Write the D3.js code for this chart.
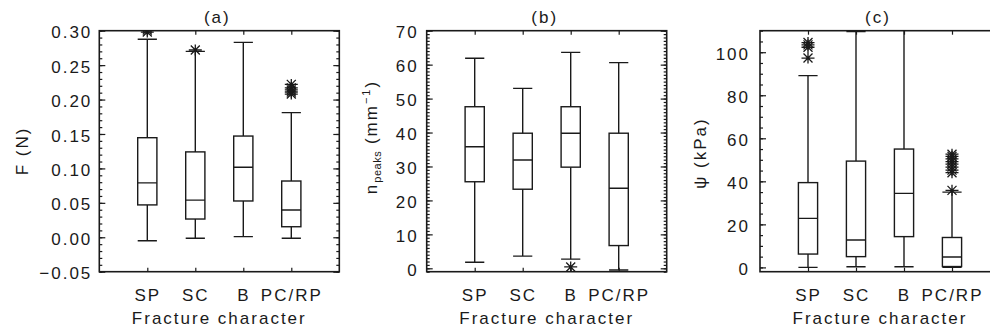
<!DOCTYPE html>
<html>
<head>
<meta charset="utf-8">
<script src="https://cdn.jsdelivr.net/npm/d3@7"></script>
<style>
    body { margin: 0; background: #fff; }
    svg { display: block; font-family: "Liberation Sans", Arial, sans-serif; }
    .tick text, .label { font-size: 17px; letter-spacing: 2px; fill: #1a1a1a; }
</style>
</head>
<body>
<svg width="990" height="331"></svg>
<script>
// **** Values ****
var categories = ["SP", "SC", "B", "PC/RP"];

// (a) F (N)
var forceLow = [-0.005, -0.0015, 0.001, -0.0015];
var forceQ1 = [0.047, 0.0265, 0.0527, 0.0153];
var forceMedian = [0.079, 0.054, 0.1016, 0.0396];
var forceQ3 = [0.1446, 0.124, 0.147, 0.0817];
var forceHigh = [0.2875, 0.27, 0.283, 0.181];
var forceOutliers = [[0.298, 0.301, 0.304], [0.272], [], [0.222, 0.217, 0.214, 0.211, 0.208]];

// (b) n_peaks (mm-1)
var peaksLow = [1.8, 3.6, 2.7, -0.5];
var peaksQ1 = [25.5, 23.3, 29.8, 6.7];
var peaksMedian = [35.8, 31.9, 39.8, 23.6];
var peaksQ3 = [47.6, 39.8, 47.6, 39.8];
var peaksHigh = [61.9, 53.0, 63.6, 60.6];
var peaksOutliers = [[], [], [0.4], []];

// (c) psi (kPa)
var psiLow = [0, 0.3, 0.3, 0];
var psiQ1 = [6.2, 5, 14.3, 0.4];
var psiMedian = [22.8, 12.7, 34.4, 4.8];
var psiQ3 = [39.4, 49.4, 55, 13.9];
var psiHigh = [89.1, 109.6, 118, 35];
var psiOutliers = [[104.5, 103.4, 102.3, 97.3], [], [], [52.6, 51.6, 50.4, 49.2, 48, 46.6, 45.2, 44, 35.8]];

// **** Layout ****
var plotTop = 30.7, plotBottom = 271.7, plotWidth = 240;
var ink = "#1a1a1a";

var panels = [
    { title: "(a)", left: 99.3, low: forceLow, q1: forceQ1, med: forceMedian, q3: forceQ3, high: forceHigh, out: forceOutliers,
      domain: [-0.05, 0.30], major: 0.05, minor: 0.01, format: ".2f", labelX: 28, labelY: 151, pad: 7, label: "F (N)" },
    { title: "(b)", left: 426.7, low: peaksLow, q1: peaksQ1, med: peaksMedian, q3: peaksQ3, high: peaksHigh, out: peaksOutliers,
      domain: [-1, 70], major: 10, minor: 1, format: "d", labelX: 377, labelY: 137, pad: 8, label: "peaks" },
    { title: "(c)", left: 760, low: psiLow, q1: psiQ1, med: psiMedian, q3: psiQ3, high: psiHigh, out: psiOutliers,
      domain: [-2, 110], major: 20, minor: 5, format: "d", labelX: 706, labelY: 153, pad: 10, label: "\u03c8 (kPa)" }
];

// IDL style asterisk (psym=2)
var asterisk = {
    draw: function (context, size) {
        var r = Math.sqrt(size);
        context.moveTo(-0.65 * r, 0); context.lineTo(0.65 * r, 0);
        context.moveTo(0, -0.55 * r); context.lineTo(0, 0.55 * r);
        context.moveTo(-0.45 * r, -0.45 * r); context.lineTo(0.45 * r, 0.45 * r);
        context.moveTo(-0.45 * r, 0.45 * r); context.lineTo(0.45 * r, -0.45 * r);
    }
};

function steps(lo, hi, step) {
    var first = Math.ceil(lo / step - 1e-9), last = Math.floor(hi / step + 1e-9);
    return d3.range(first, last + 1).map(function (k) { return +(k * step).toFixed(6); });
}

var svg = d3.select("svg");

panels.forEach(function (p, pi) {
    var x = d3.scaleLinear().domain([0, 5]).range([p.left, p.left + plotWidth]);
    var y = d3.scaleLinear().domain(p.domain).range([plotBottom, plotTop]);
    var right = p.left + plotWidth;
    var g = svg.append("g");

    var clipId = "clip" + pi;
    g.append("clipPath").attr("id", clipId)
        .append("rect").attr("x", p.left).attr("y", plotTop).attr("width", plotWidth).attr("height", plotBottom - plotTop);

    var majors = steps(p.domain[0], p.domain[1], p.major);
    var minors = steps(p.domain[0], p.domain[1], p.minor);
    var fmt = d3.format(p.format);
    var catTicks = d3.range(1, categories.length + 1);

    // minor ticks, left and right
    g.append("g").attr("transform", "translate(" + p.left + ",0)").style("color", ink)
        .call(d3.axisLeft(y).tickValues(minors).tickSize(-3).tickFormat(""));
    g.append("g").attr("transform", "translate(" + right + ",0)").style("color", ink)
        .call(d3.axisRight(y).tickValues(minors).tickSize(-3).tickFormat(""));

    // major ticks with labels
    g.append("g").attr("transform", "translate(" + p.left + ",0)").style("color", ink)
        .call(d3.axisLeft(y).tickValues(majors).tickSize(-6).tickPadding(p.pad).tickFormat(fmt))
        .selectAll(".tick text").attr("dy", "0.42em");
    g.append("g").attr("transform", "translate(" + right + ",0)").style("color", ink)
        .call(d3.axisRight(y).tickValues(majors).tickSize(-6).tickFormat(""));

    // category ticks top and bottom
    g.append("g").attr("transform", "translate(0," + plotBottom + ")").style("color", ink)
        .call(d3.axisBottom(x).tickValues(catTicks).tickSize(-4).tickPadding(17)
            .tickFormat(function (d) { return categories[d - 1]; }));
    g.append("g").attr("transform", "translate(0," + plotTop + ")").style("color", ink)
        .call(d3.axisTop(x).tickValues(catTicks).tickSize(-4).tickFormat(""));

    g.selectAll(".domain").remove();
    g.selectAll(".tick line").attr("stroke-width", 1.2);

    // frame
    g.append("rect")
        .attr("x", p.left).attr("y", plotTop)
        .attr("width", plotWidth).attr("height", plotBottom - plotTop)
        .attr("fill", "none").attr("stroke", ink).attr("stroke-width", 1.6);

    // boxes
    var plot = g.append("g").attr("clip-path", "url(#" + clipId + ")")
        .attr("stroke", ink).attr("fill", "none").attr("stroke-width", 1.4);
    var half = 0.2;

    categories.forEach(function (c, i) {
        var cx = x(i + 1);
        var x0 = x(i + 1 - half), x1 = x(i + 1 + half);
        plot.append("line").attr("x1", cx).attr("x2", cx).attr("y1", y(p.q3[i])).attr("y2", y(p.high[i]));
        plot.append("line").attr("x1", cx).attr("x2", cx).attr("y1", y(p.q1[i])).attr("y2", y(p.low[i]));
        plot.append("line").attr("x1", x0).attr("x2", x1).attr("y1", y(p.high[i])).attr("y2", y(p.high[i]));
        plot.append("line").attr("x1", x0).attr("x2", x1).attr("y1", y(p.low[i])).attr("y2", y(p.low[i]));
        plot.append("rect").attr("x", x0).attr("y", y(p.q3[i]))
            .attr("width", x1 - x0).attr("height", y(p.q1[i]) - y(p.q3[i]));
        plot.append("line").attr("x1", x0).attr("x2", x1).attr("y1", y(p.med[i])).attr("y2", y(p.med[i]));

        p.out[i].forEach(function (v) {
            plot.append("path")
                .attr("d", d3.symbol().type(asterisk).size(100)())
                .attr("transform", "translate(" + cx + "," + y(v) + ")")
                .attr("stroke-width", 1.3);
        });
    });

    // title and axis labels
    g.append("text").attr("class", "label")
        .attr("x", p.left + plotWidth / 2 - 2).attr("y", 23)
        .attr("text-anchor", "middle").text(p.title);

    g.append("text").attr("class", "label")
        .attr("x", p.left + plotWidth / 2).attr("y", 324)
        .attr("text-anchor", "middle").text("Fracture character");

    var yl = g.append("text").attr("class", "label")
        .attr("transform", "translate(" + p.labelX + "," + p.labelY + ") rotate(-90)")
        .attr("text-anchor", "middle");
    if (p.label === "peaks") {
        yl.append("tspan").text("n");
        yl.append("tspan").attr("dy", 4).style("font-size", "11px").style("letter-spacing", "0.5px").text("peaks");
        yl.append("tspan").attr("dy", -4).text(" (mm");
        yl.append("tspan").attr("dy", -7).style("font-size", "11px").text("\u22121");
        yl.append("tspan").attr("dy", 7).text(")");
    } else {
        yl.text(p.label);
    }
});
</script>
</body>
</html>
